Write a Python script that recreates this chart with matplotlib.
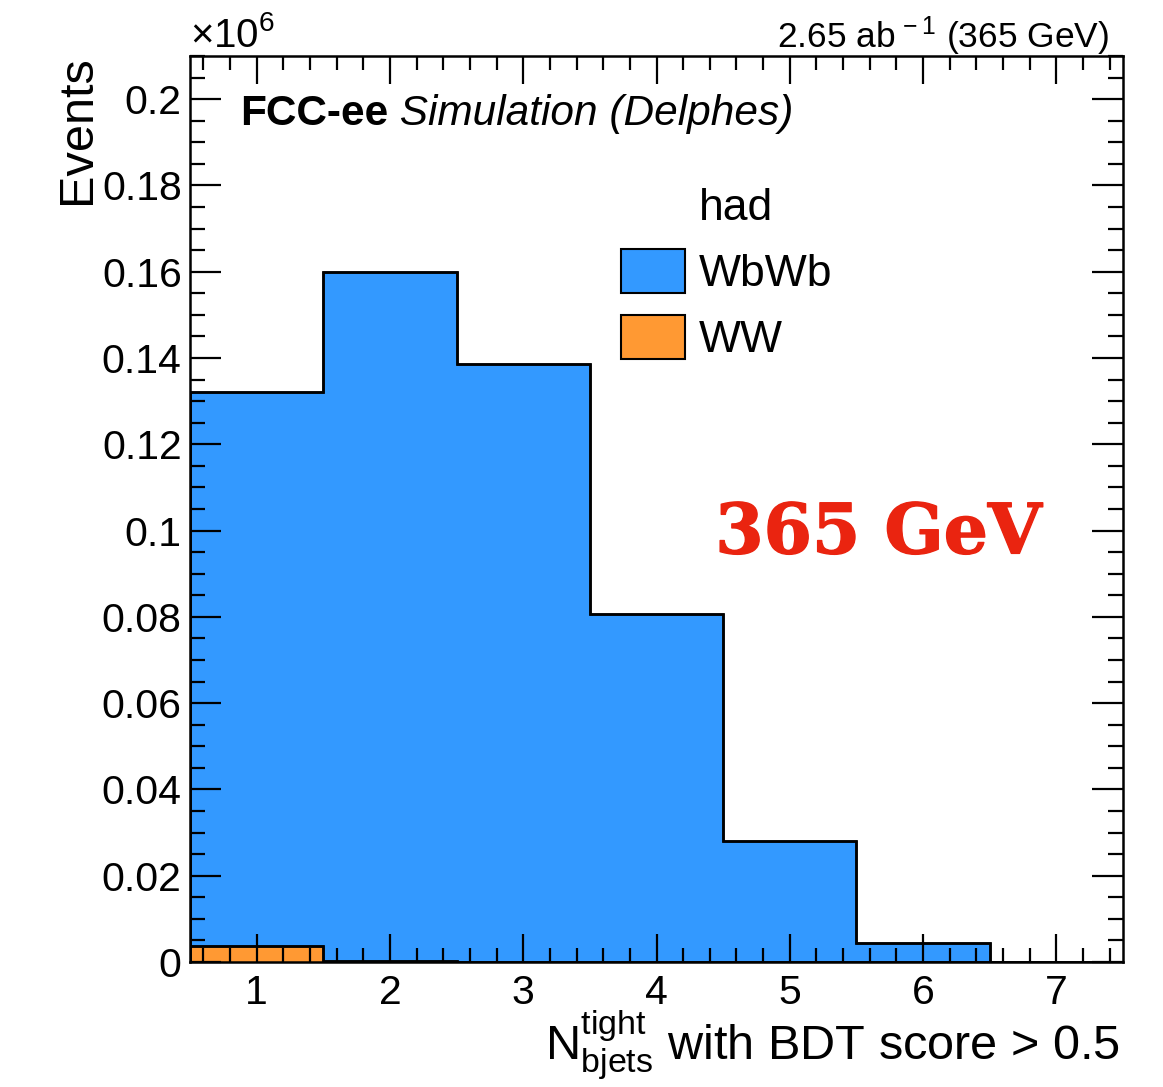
import numpy as np
import matplotlib
matplotlib.use("Agg")
import matplotlib.pyplot as plt
from matplotlib.patches import Patch
from matplotlib.ticker import MultipleLocator, FuncFormatter
import matplotlib.patheffects as pe

# Number of tight b-jets with BDT score > 0.5, events in units of 10^6
bin_centers = [1, 2, 3, 4, 5, 6, 7]
ww = [0.0038, 0.0003, 0.0, 0.0, 0.0, 0.0, 0.0]
wbwb = [0.1284, 0.1597, 0.1385, 0.0807, 0.0281, 0.0044, 0.0]
legend_header = "had"
series_labels = ["WbWb", "WW"]

plt.rcParams["font.family"] = ["Liberation Sans", "DejaVu Sans"]
plt.rcParams["mathtext.fontset"] = "custom"
plt.rcParams["mathtext.rm"] = "Liberation Sans"
plt.rcParams["mathtext.it"] = "Liberation Sans:italic"
plt.rcParams["mathtext.bf"] = "Liberation Sans:bold"

BLUE = "#3399ff"
ORANGE = "#ff9933"

fig = plt.figure(figsize=(11.63, 10.87), dpi=100)
ax = fig.add_axes([0.1634, 0.115, 0.8022, 0.8335])

edges = np.concatenate([np.array(bin_centers) - 0.5, [bin_centers[-1] + 0.5]])
total = np.array(wbwb) + np.array(ww)

ax.stairs(total, edges, fill=True, facecolor=BLUE, edgecolor="black", linewidth=1.8)
ax.stairs(total, edges, fill=False, color="black", linewidth=1.8)
ax.stairs(ww, edges, fill=True, facecolor=ORANGE, edgecolor="black", linewidth=1.8)
ax.stairs(ww, edges, fill=False, color="black", linewidth=1.8)

ax.set_xlim(0.5, 7.5)
ax.set_ylim(0, 0.21)

ax.xaxis.set_major_locator(MultipleLocator(1))
ax.xaxis.set_minor_locator(MultipleLocator(0.2))
ax.yaxis.set_major_locator(MultipleLocator(0.02))
ax.yaxis.set_minor_locator(MultipleLocator(0.005))
ax.yaxis.set_major_formatter(FuncFormatter(lambda v, p: f"{v:.2f}".rstrip("0").rstrip(".") if v != 0 else "0"))

ax.tick_params(which="both", direction="in", top=True, right=True, width=1.6, labelsize=29.5)
ax.tick_params(axis="x", which="major", length=20, pad=9)
ax.tick_params(axis="x", which="minor", length=10)
ax.tick_params(axis="y", which="major", length=22, pad=6)
ax.tick_params(axis="y", which="minor", length=11)
for s in ax.spines.values():
    s.set_linewidth(1.8)
ax.set_axisbelow(False)

# Axis titles
fig.text(0.067, 0.949, "Events", rotation=90, ha="center", va="top", fontsize=35)
fig.text(0.963, 0.025, r"$\mathregular{N^{tight}_{bjets}}$ with BDT score > 0.5",
         ha="right", va="baseline", fontsize=35)

# Exponent and luminosity labels
fig.text(0.1634, 0.957, r"$\times\mathregular{10^{6}}$", ha="left", va="baseline", fontsize=29)
fig.text(0.954, 0.956, r"2.65 ab$\mathregular{^{\,-1}}$ (365 GeV)", ha="right", va="baseline",
         fontsize=25.5)

# Experiment label
t1 = ax.text(0.0536, 0.924, "FCC-ee", transform=ax.transAxes, fontsize=30.5,
             fontweight="bold", ha="left", va="baseline")
ax.annotate(" Simulation (Delphes)", xy=(1, 0), xycoords=t1, fontsize=30.5,
            style="italic", ha="left", va="bottom")

# Energy tag
ax.text(0.563, 0.451, "365 GeV", transform=ax.transAxes, fontsize=50,
        family="DejaVu Serif", fontweight="bold", color="#ea2410",
        ha="left", va="baseline",
        path_effects=[pe.withStroke(linewidth=1.0, foreground="#ea2410")])

# Legend
handles = [Patch(facecolor="none", edgecolor="none"),
           Patch(facecolor=BLUE, edgecolor="black", linewidth=1.5),
           Patch(facecolor=ORANGE, edgecolor="black", linewidth=1.5)]
labels = [legend_header] + series_labels
ax.legend(handles, labels, loc="upper left", bbox_to_anchor=(0.462, 0.8605),
          frameon=False, fontsize=32, handlelength=1.44, handleheight=1.16,
          handletextpad=0.3, labelspacing=0.45, borderpad=0, borderaxespad=0)

fig.savefig("out.png", dpi=100)
